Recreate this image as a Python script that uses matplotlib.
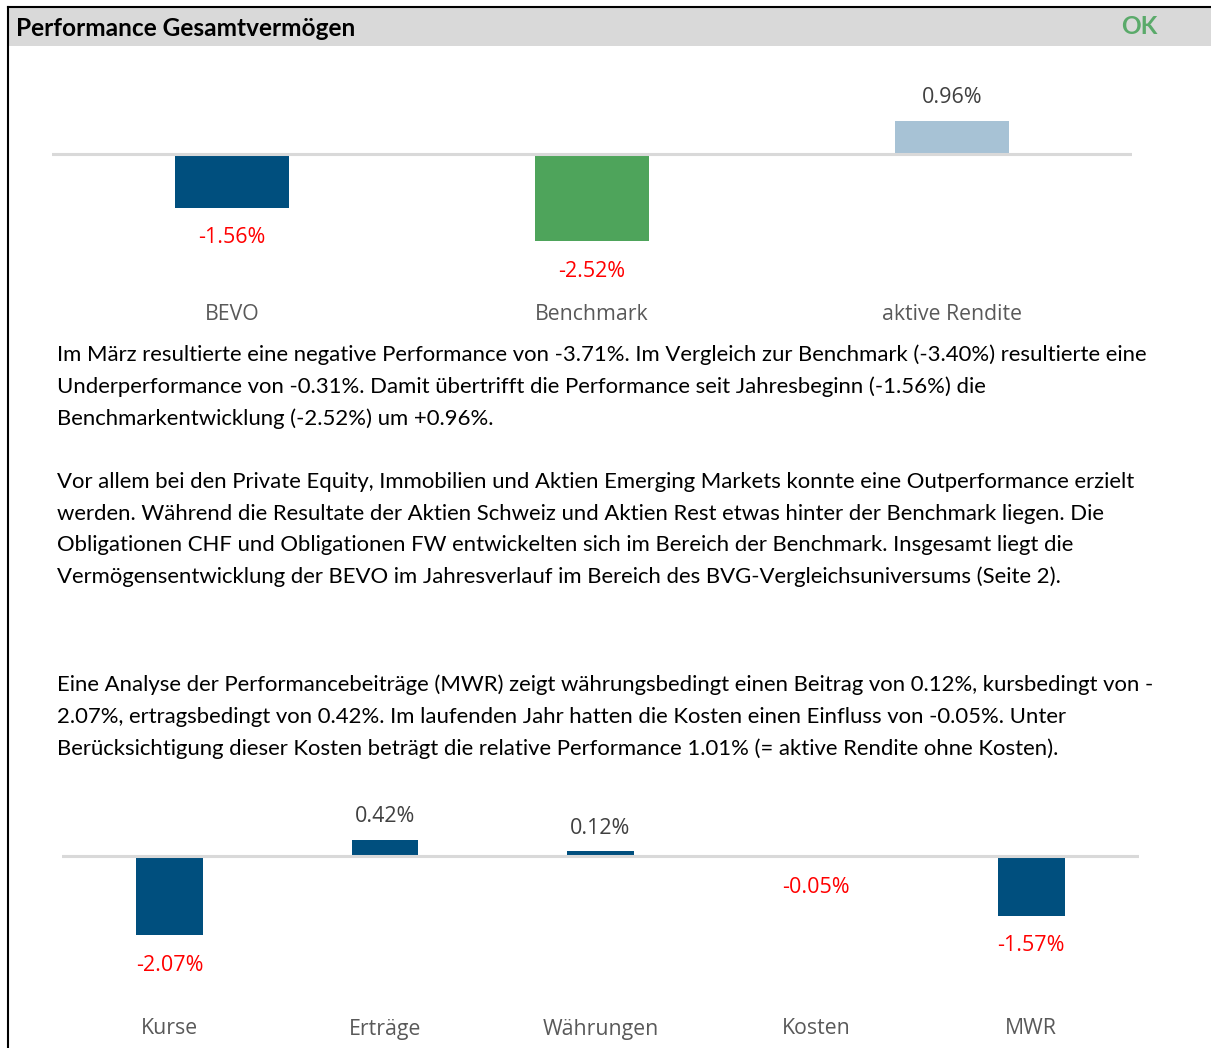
"""
Performance Gesamtvermögen: two bar panels with commentary text.
Generates out.png.
"""
import matplotlib.pyplot as plt
from matplotlib.patches import Rectangle

W, H = 1211, 1048

# ─── Data ───
top_cats = ['BEVO', 'Benchmark', 'aktive Rendite']
top_vals = [-1.56, -2.52, 0.96]
top_colors = ['#004f7e', '#4ea45b', '#a7c2d5']

bot_cats = ['Kurse', 'Erträge', 'Währungen', 'Kosten', 'MWR']
bot_vals = [-2.07, 0.42, 0.12, -0.05, -1.57]
bot_color = '#004f7e'

para1 = ['Im März resultierte eine negative Performance von -3.71%. Im Vergleich zur Benchmark (-3.40%) resultierte eine',
         'Underperformance von -0.31%. Damit übertrifft die Performance seit Jahresbeginn (-1.56%) die',
         'Benchmarkentwicklung (-2.52%) um +0.96%.']
para2 = ['Vor allem bei den Private Equity, Immobilien und Aktien Emerging Markets konnte eine Outperformance erzielt',
         'werden. Während die Resultate der Aktien Schweiz und Aktien Rest etwas hinter der Benchmark liegen. Die',
         'Obligationen CHF und Obligationen FW entwickelten sich im Bereich der Benchmark. Insgesamt liegt die',
         'Vermögensentwicklung der BEVO im Jahresverlauf im Bereich des BVG-Vergleichsuniversums (Seite 2).']
para3 = ['Eine Analyse der Performancebeiträge (MWR) zeigt währungsbedingt einen Beitrag von 0.12%, kursbedingt von -',
         '2.07%, ertragsbedingt von 0.42%. Im laufenden Jahr hatten die Kosten einen Einfluss von -0.05%. Unter',
         'Berücksichtigung dieser Kosten beträgt die relative Performance 1.01% (= aktive Rendite ohne Kosten).']

c_label = '#595959'
c_pos = '#404040'
c_neg = '#ff0000'
c_zero = '#d9d9d9'
chart_font = 'Open Sans'
body_font = 'Lato'

fig = plt.figure(figsize=(W / 100, H / 100), dpi=100)
fig.patch.set_facecolor('white')


def px_x(x):
    return x / W


def px_y(y):
    return 1 - y / H


# ─── Frame + header ───
fig.add_artist(Rectangle((px_x(9), px_y(46)), px_x(W - 9), (46 - 8) / H,
                         transform=fig.transFigure, facecolor='#d9d9d9',
                         edgecolor='none'))
fig.add_artist(plt.Line2D([px_x(8), 1], [px_y(7), px_y(7)], color='black', lw=1.5))
fig.add_artist(plt.Line2D([px_x(8), px_x(8)], [px_y(7), 0], color='black', lw=1.5))
fig.text(px_x(16), px_y(29), 'Performance Gesamtvermögen', ha='left', va='center',
         fontsize=17.6, weight='bold', family=body_font, color='black')
fig.text(px_x(1157), px_y(27), 'OK', ha='right', va='center',
         fontsize=17.6, weight='bold', family=body_font, color='#5aaa6a')


def bar_panel(left, right, top, bottom, zero, scale, cats, vals, colors, width,
              label_y):
    ax = fig.add_axes([px_x(left), px_y(bottom), (right - left) / W, (bottom - top) / H])
    ax.set_xlim(-0.5, len(cats) - 0.5)
    ax.set_ylim(-(bottom - zero) / scale, (zero - top) / scale)
    ax.axis('off')
    ax.bar(range(len(cats)), vals, width=width, color=colors, zorder=2)
    ax.axhline(0, color=c_zero, lw=2.2, zorder=3)
    for i, v in enumerate(vals):
        off = 23 if v >= 0 else -30
        ax.annotate(f'{v:.2f}%', (i, v), xytext=(0, off), textcoords='offset pixels',
                    ha='center', va='center', fontsize=15.5, family=chart_font,
                    color=c_pos if v >= 0 else c_neg)
        fig.text(px_x(left + (i + 0.5) * (right - left) / len(cats)), px_y(label_y),
                 cats[i], ha='center', va='center', fontsize=15.3, family=chart_font,
                 color=c_label)
    return ax


bar_panel(52, 1132, 60, 300, 154, 34.6, top_cats, top_vals, top_colors, 0.314, 314)
bar_panel(62, 1139, 780, 1000, 856, 38.2, bot_cats, bot_vals, bot_color, 0.31, 1029)

# ─── Commentary text ───
body_size = 15.95
for start, lines in [(355, para1), (482, para2), (685, para3)]:
    for k, line in enumerate(lines):
        fig.text(px_x(57), px_y(start + k * 31.7), line, ha='left', va='center',
                 fontsize=body_size, family=body_font, color='black')

fig.savefig('out.png', dpi=100, facecolor='white')
plt.close()
